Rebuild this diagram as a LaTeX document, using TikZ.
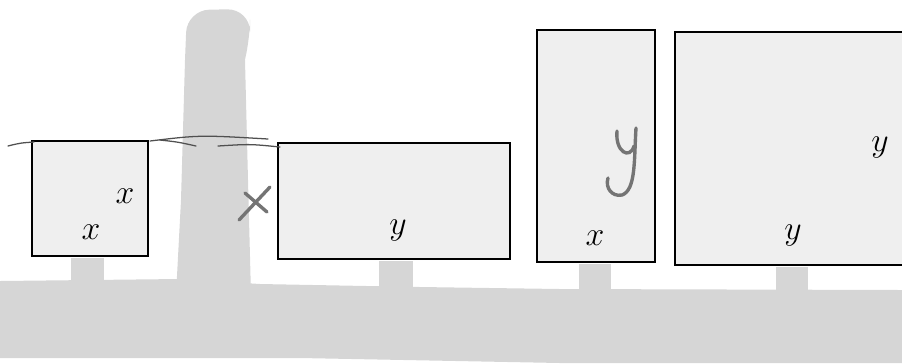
\documentclass[tikz,border=0pt]{standalone}
\usepackage{tikz}
\usepackage{xcolor}
\usetikzlibrary{positioning}

\definecolor{groundgray}{HTML}{D6D6D6}
\definecolor{boardgray}{HTML}{EFEFEF}
\definecolor{pengray}{HTML}{747474}
\definecolor{linegray}{HTML}{505050}

\begin{document}
\begin{tikzpicture}[
x=0.0125cm,
y=-0.0125cm,
board/.style={
draw,
line width=0.95pt,
fill=boardgray,
inner sep=0pt
},
lab/.style={
font=\large,
inner sep=0pt
},
pen/.style={draw=pengray, line width=1.2pt, line cap=round},
thinline/.style={draw=linegray, line width=0.45pt, line cap=round}
]
\useasboundingbox (0,0) rectangle (902,363);

% ground
\fill[groundgray] (0,281) -- (180,279) -- (260,284) -- (420,287)
-- (560,289) -- (902,290) -- (902,363) -- (560,363) -- (300,358)
-- (0,358) -- cycle;

% pillar
\fill[groundgray] (176,295) -- (181,200) -- (185,60)
[rounded corners=8pt] -- (187,10) -- (250,9) -- (250,42)
[sharp corners] -- (245,60) -- (248,180) -- (251,295) -- cycle;

\node (left) [board, minimum width=1.45cm, minimum height=1.44cm] at (90,198.5) {};

\node (wide) [board, minimum width=2.9cm, minimum height=1.45cm] at (394,201) {};

\node (tall) [board, minimum width=1.475cm, minimum height=2.9cm] at (596,146) {};

\node (big) [board, minimum width=2.95cm, minimum height=2.91cm] at (793,148.5) {};

% stems
\fill[groundgray] ([xshift=0.5pt]left.south) ++(-20,1) rectangle ++(33,26);
\fill[groundgray] ([xshift=0.5pt]wide.south) ++(-16,1) rectangle ++(34,28);
\fill[groundgray] ([xshift=0.5pt]tall.south) ++(-18,1) rectangle ++(32,28);
\fill[groundgray] ([xshift=0.5pt]big.south) ++(-18,1) rectangle ++(32,26);

% labels
\node (leftTop) [lab] at (125,196) {$x$};
\node (leftBottom) [lab] at (91,232) {$x$};
\node (wideLabel) [lab] at (398,231) {$y$};
\node (tallLabel) [lab] at (595,238) {$x$};
\node (bigTop) [lab] at (880,148) {$y$};
\node (bigBottom) [lab] at (793,236) {$y$};

% hand drawn marks
\draw[thinline] (8,146) .. controls (20,143) .. (34,142);
\draw[thinline] (150,141) .. controls (200,135) .. (268,139);
\draw[thinline] (160,140) .. controls (178,142) .. (196,146);
\draw[thinline] (218,146) .. controls (250,144) .. (280,147);

\draw[pen] (239,220) -- (270,187);
\draw[pen] (245,193) -- (267,212);

\draw[pen] (617,131) .. controls (615,152) and (630,160) .. (634,146);
\draw[pen] (636,128) .. controls (634,160) and (636,190) .. (622,195)
.. controls (612,197) and (605,188) .. (608,178);

\end{tikzpicture}
\end{document}
